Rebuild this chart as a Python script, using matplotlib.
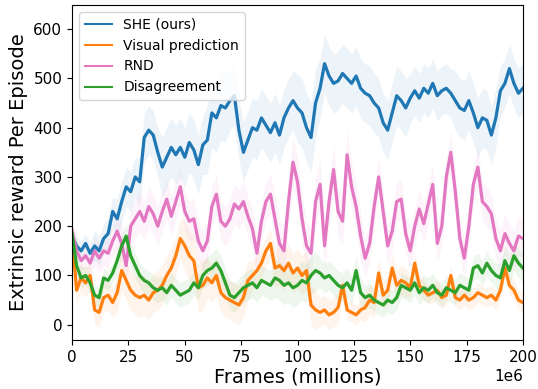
import numpy as np
import matplotlib
matplotlib.use("Agg")
import matplotlib.pyplot as plt

# frames in millions, one value every 2M frames
frames_m = list(range(0, 201, 2))

she = [180, 160, 150, 165, 145, 160, 150, 175, 185, 230, 215, 250, 280, 270, 300, 290, 380, 395, 385, 350,
       320, 340, 360, 345, 360, 340, 370, 355, 325, 365, 375, 430, 420, 445, 440, 455, 465, 395, 350, 375,
       400, 395, 420, 405, 390, 410, 385, 420, 440, 455, 440, 430, 400, 380, 450, 480, 530, 505, 490, 495,
       510, 500, 490, 505, 480, 470, 465, 450, 440, 410, 395, 430, 465, 455, 440, 460, 475, 460, 480, 470,
       490, 465, 475, 480, 470, 455, 440, 435, 455, 430, 400, 420, 415, 385, 420, 475, 490, 520, 490, 470,
       480]
visual = [180, 70, 95, 85, 100, 30, 25, 55, 60, 45, 65, 110, 90, 70, 60, 55, 60, 50, 65, 70,
          80, 100, 115, 140, 175, 160, 140, 130, 75, 80, 95, 85, 100, 65, 55, 50, 45, 40, 55, 90,
          100, 110, 125, 150, 165, 115, 120, 110, 125, 105, 115, 100, 110, 40, 30, 25, 30, 20, 25, 35,
          80, 30, 25, 20, 30, 35, 50, 45, 105, 60, 70, 115, 80, 90, 85, 75, 125, 80, 70, 60,
          65, 70, 55, 60, 100, 55, 50, 60, 50, 55, 65, 60, 55, 60, 50, 70, 115, 80, 70, 50,
          45]
rnd = [190, 150, 130, 140, 125, 150, 135, 150, 145, 170, 190, 165, 120, 200, 215, 230, 210, 240, 225, 200,
       230, 255, 220, 250, 280, 230, 210, 215, 170, 150, 170, 240, 265, 210, 200, 215, 245, 235, 250, 220,
       195, 145, 210, 250, 265, 215, 165, 150, 250, 330, 290, 215, 160, 145, 250, 285, 160, 250, 315, 230,
       210, 345, 280, 240, 180, 135, 165, 240, 300, 230, 160, 190, 250, 255, 185, 150, 200, 235, 205, 245,
       285, 165, 200, 300, 350, 270, 175, 135, 200, 285, 320, 250, 240, 225, 175, 150, 185, 165, 150, 180,
       175]
disagree = [185, 120, 95, 100, 85, 60, 55, 95, 90, 105, 130, 160, 180, 140, 120, 100, 90, 85, 75, 70,
            75, 65, 80, 70, 60, 65, 70, 85, 75, 100, 110, 115, 125, 110, 85, 60, 55, 65, 75, 80,
            85, 75, 90, 85, 80, 95, 90, 80, 85, 75, 80, 90, 85, 100, 110, 105, 95, 100, 90, 80,
            75, 85, 70, 110, 65, 55, 60, 50, 45, 40, 50, 45, 55, 80, 75, 70, 85, 65, 75, 70,
            80, 65, 60, 75, 70, 65, 80, 75, 70, 115, 120, 105, 125, 110, 100, 95, 130, 110, 140, 125,
            115]

# band half-widths, one per 10M-frame segment
she_spread = [20, 30, 40, 50, 60, 60, 70, 60, 60, 60, 70, 60, 60, 60, 60, 50, 50, 60, 60, 50, 50]
visual_spread = [30, 30, 40, 40, 40, 50, 40, 40, 30, 40, 40, 30, 20, 30, 30, 20, 20, 20, 20, 20, 20]
rnd_spread = [20, 30, 40, 40, 40, 40, 40, 40, 40, 50, 50, 50, 50, 40, 40, 40, 40, 40, 40, 40, 40]
disagree_spread = [20, 20, 25, 25, 25, 25, 30, 30, 30, 40, 40, 30, 30, 25, 25, 25, 25, 25, 25, 30, 30]

labels = ["SHE (ours)", "Visual prediction", "RND", "Disagreement"]
colors = ["#1f77b4", "#ff7f0e", "#e377c2", "#2ca02c"]

x = np.array(frames_m, dtype=float) * 1e6

def expand(spread):
    s = np.repeat(np.array(spread, dtype=float), 5)
    return s[:len(x)]

fig = plt.figure(figsize=(5.38, 3.89), dpi=100)
ax = fig.add_axes([0.134, 0.126, 0.838, 0.861])

series = [she, visual, rnd, disagree]
spreads = [she_spread, visual_spread, rnd_spread, disagree_spread]
for vals, sp, lab, c in zip(series, spreads, labels, colors):
    v = np.array(vals, dtype=float)
    s = expand(sp)
    ax.fill_between(x, v - s, v + s, color=c, alpha=0.08, linewidth=0)
    ax.plot(x, v, color=c, lw=2.3, label=lab)

ax.set_xlim(0, 2e8)
ax.set_ylim(-31, 649)
ax.set_xticks(np.arange(0, 2.01e8, 2.5e7))
ax.set_yticks([0, 100, 200, 300, 400, 500, 600])
ax.ticklabel_format(axis='x', style='sci', scilimits=(6, 6))
ax.tick_params(labelsize=11)
ax.xaxis.get_offset_text().set_fontsize(11)
ax.set_xlabel("Frames (millions)", fontsize=14, labelpad=2)
ax.set_ylabel("Extrinsic reward Per Episode", fontsize=14)
leg = ax.legend(loc="upper left", fontsize=10)
for line in leg.get_lines():
    line.set_linewidth(1.5)

fig.savefig("out.png", dpi=100)
